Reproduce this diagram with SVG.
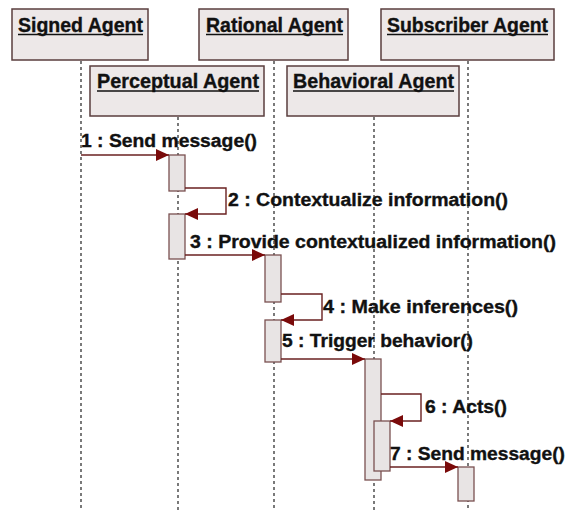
<svg xmlns="http://www.w3.org/2000/svg" width="572" height="510" viewBox="0 0 572 510">
<defs>
<style>
.box{fill:#ede8e8;stroke:#5a3e3e;stroke-width:1.5}
.hdr{font-family:"Liberation Sans",Arial,sans-serif;font-weight:bold;font-size:19.5px;fill:#111;stroke:#111;stroke-width:0.35}
.ul{stroke:#111;stroke-width:1.6}
.life{stroke:#333;stroke-width:1.3;stroke-dasharray:3,3;fill:none}
.act{fill:#e8e4e4;stroke:#7a5050;stroke-width:1.3}
.msg{stroke:#6a2020;stroke-width:1.4;fill:none}
.lbl{font-family:"Liberation Sans",Arial,sans-serif;font-weight:bold;font-size:18px;fill:#111;stroke:#111;stroke-width:0.35}
</style>
<marker id="ah" markerWidth="14" markerHeight="12" refX="13" refY="6" orient="auto" markerUnits="userSpaceOnUse">
<path d="M0,0 L13,6 L0,12 Z" fill="#7a0a0a"/>
</marker>
</defs>
<rect width="572" height="510" fill="#ffffff"/>

<g id="lifelines">
<line class="life" x1="81" y1="61" x2="81" y2="510"/>
<line class="life" x1="274" y1="61" x2="274" y2="510"/>
<line class="life" x1="468" y1="61" x2="468" y2="510"/>
<line class="life" x1="178" y1="117" x2="178" y2="510"/>
<line class="life" x1="374" y1="117" x2="374" y2="510"/>
</g>

<g id="signed-agent">
<rect class="box" x="12" y="9" width="136" height="51"/>
<text class="hdr" x="18" y="32" textLength="125" lengthAdjust="spacingAndGlyphs">Signed Agent</text>
<line class="ul" x1="18" y1="34.5" x2="143" y2="34.5"/>
</g>
<g id="rational-agent">
<rect class="box" x="199" y="9" width="149" height="51"/>
<text class="hdr" x="206" y="32" textLength="137" lengthAdjust="spacingAndGlyphs">Rational Agent</text>
<line class="ul" x1="206" y1="34.5" x2="343" y2="34.5"/>
</g>
<g id="subscriber-agent">
<rect class="box" x="381" y="9" width="173" height="51"/>
<text class="hdr" x="387" y="32" textLength="161" lengthAdjust="spacingAndGlyphs">Subscriber Agent</text>
<line class="ul" x1="387" y1="34.5" x2="548" y2="34.5"/>
</g>
<g id="perceptual-agent">
<rect class="box" x="90" y="66" width="174" height="50"/>
<text class="hdr" x="97" y="88" textLength="162" lengthAdjust="spacingAndGlyphs">Perceptual Agent</text>
<line class="ul" x1="97" y1="91" x2="259" y2="91"/>
</g>
<g id="behavioral-agent">
<rect class="box" x="287" y="66" width="172" height="50"/>
<text class="hdr" x="293" y="88" textLength="161" lengthAdjust="spacingAndGlyphs">Behavioral Agent</text>
<line class="ul" x1="293" y1="91" x2="454" y2="91"/>
</g>

<g id="activations">
<rect class="act" x="169" y="155" width="16" height="36"/>
<rect class="act" x="169" y="214" width="16" height="45"/>
<rect class="act" x="265" y="255" width="16" height="47"/>
<rect class="act" x="265" y="320" width="16" height="42"/>
<rect class="act" x="365" y="359" width="16" height="121"/>
<rect class="act" x="374" y="421" width="16" height="50"/>
<rect class="act" x="458" y="467" width="16" height="34"/>
</g>

<g id="connectors">
<line class="msg" x1="81" y1="155" x2="169" y2="155" marker-end="url(#ah)"/>
<polyline class="msg" points="185,188 226,188 226,214 185,214" marker-end="url(#ah)"/>
<line class="msg" x1="185" y1="255" x2="265" y2="255" marker-end="url(#ah)"/>
<polyline class="msg" points="281,294 322,294 322,320 281,320" marker-end="url(#ah)"/>
<line class="msg" x1="281" y1="359" x2="365" y2="359" marker-end="url(#ah)"/>
<polyline class="msg" points="381,394 421,394 421,421 390,421" marker-end="url(#ah)"/>
<line class="msg" x1="390" y1="467" x2="458" y2="467" marker-end="url(#ah)"/>
</g>

<g id="labels">
<text class="lbl" x="81" y="147" textLength="176" lengthAdjust="spacingAndGlyphs">1 : Send message()</text>
<text class="lbl" x="228" y="206" textLength="280" lengthAdjust="spacingAndGlyphs">2 : Contextualize information()</text>
<text class="lbl" x="190" y="248" textLength="366" lengthAdjust="spacingAndGlyphs">3 : Provide contextualized information()</text>
<text class="lbl" x="323" y="313" textLength="195" lengthAdjust="spacingAndGlyphs">4 : Make inferences()</text>
<text class="lbl" x="282" y="347" textLength="191" lengthAdjust="spacingAndGlyphs">5 : Trigger behavior()</text>
<text class="lbl" x="425" y="413" textLength="82" lengthAdjust="spacingAndGlyphs">6 : Acts()</text>
<text class="lbl" x="390" y="460" textLength="175" lengthAdjust="spacingAndGlyphs">7 : Send message()</text>
</g>
</svg>
